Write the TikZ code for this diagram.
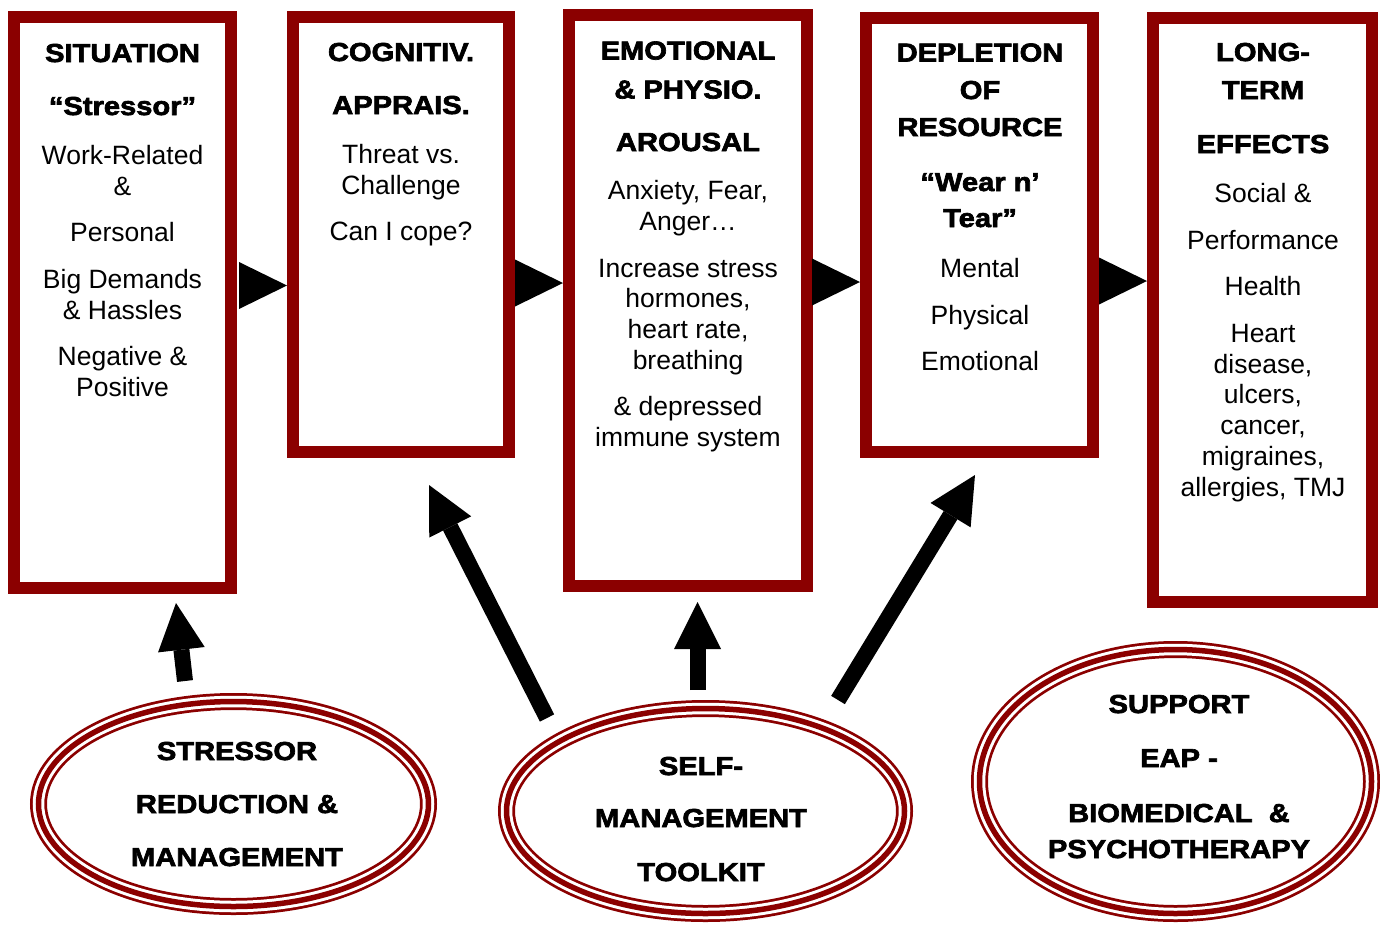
\documentclass[tikz,border=0pt]{standalone}
\usepackage{fontspec}
\setmainfont{Liberation Sans}
\newfontfamily\headfont{Liberation Sans Bold}[FakeStretch=1.12,FakeBold=2.6]
\usetikzlibrary{arrows.meta,shapes.geometric}
\definecolor{dred}{HTML}{8B0000}
\newcommand\hv{\headfont\fontsize{26}{31}\selectfont}
\begin{document}
\begin{tikzpicture}[x=1pt,y=-1pt,
  box/.style={draw=dred,line width=12pt,rectangle,inner sep=0pt},
  ring/.style={ellipse,inner sep=0pt,draw=dred,line width=5.5pt,
    preaction={draw=dred,line width=17pt},
    preaction={draw=white,line width=11.5pt}},
  lbl/.style={anchor=base,inner sep=0pt,font=\fontsize{26.5}{31}\selectfont},
  flow/.style={draw=white,line width=0.1pt,
    -{Triangle[length=48pt,width=47pt,line width=0pt,color=black]}},
  bigarrow/.style={line width=16pt,-{Triangle[length=47pt,width=47pt,line width=0pt]}}]

\fill[white] (0,0) rectangle (1380,924);
\useasboundingbox (0,0) rectangle (1380,924);

% stage boxes
\node[box,minimum width=217pt,minimum height=571pt] (b1) at (122.5,302.5) {};
\node[box,minimum width=216pt,minimum height=435pt] (b2) at (401,234.5) {};
\node[box,minimum width=238pt,minimum height=571pt] (b3) at (688,300.5) {};
\node[box,minimum width=227pt,minimum height=434pt] (b4) at (979.5,235) {};
\node[box,minimum width=219pt,minimum height=584pt] (b5) at (1262.5,310) {};

% stage texts
\foreach \yy/\txt [count=\i] in {62/{\hv SITUATION},115/{\hv “Stressor”},
  164/Work-Related,195/\&,241/Personal,288/Big Demands,319/\& Hassles,
  365/Negative \&,396/Positive}
  \node[lbl] (b1t\i) at (122.5,\yy) {\txt};
\foreach \yy/\txt [count=\i] in {61/{\hv COGNITIV.},114/{\hv APPRAIS.},
  163.5/Threat vs.,194.5/Challenge,240.5/Can I cope?}
  \node[lbl] (b2t\i) at (401,\yy) {\txt};
\foreach \yy/\txt [count=\i] in {59.5/{\hv EMOTIONAL},98.5/{\hv \& PHYSIO.},
  151/{\hv AROUSAL},199.5/{Anxiety, Fear,},230.5/Anger…,
  277.5/Increase stress,307.5/{hormones,},338.5/{heart rate,},369.5/breathing,
  415.5/\& depressed,446.5/immune system}
  \node[lbl] (b3t\i) at (688,\yy) {\txt};
\foreach \yy/\txt [count=\i] in {61.5/{\hv DEPLETION},99/{\hv OF},
  136/{\hv RESOURCE},191/{\hv “Wear n’},227/{\hv Tear”},
  277.5/Mental,324.5/Physical,370.5/Emotional}
  \node[lbl] (b4t\i) at (980,\yy) {\txt};
\foreach \yy/\txt [count=\i] in {61/{\hv LONG-},99/{\hv TERM},
  153/{\hv EFFECTS},202.5/Social \&,249.5/Performance,295.5/Health,
  342.5/Heart,373.5/{disease,},403.5/{ulcers,},434.5/{cancer,},
  465.5/{migraines,},496.5/{allergies, TMJ}}
  \node[lbl] (b5t\i) at (1263,\yy) {\txt};

% flow between stages
\path (0,285.5) coordinate (r1) (0,283) coordinate (r2)
      (0,282) coordinate (r3) (0,281) coordinate (r4);
\draw[flow] (b1.east |- r1) -- (b2.west |- r1);
\draw[flow] (b2.east |- r2) -- (b3.west |- r2);
\draw[flow] (b3.east |- r3) -- (b4.west |- r3);
\draw[flow] (b4.east |- r4) -- (b5.west |- r4);

% intervention ellipses
\node[ring,minimum width=390pt,minimum height=205pt] (e1) at (233.5,804) {};
\node[ring,minimum width=398pt,minimum height=205pt] (e2) at (705.5,811) {};
\node[ring,minimum width=392pt,minimum height=264pt] (e3) at (1175.5,781.5) {};

\foreach \yy/\txt [count=\i] in {760/STRESSOR,813/REDUCTION \&,866/MANAGEMENT}
  \node[lbl] (e1t\i) at (237,\yy) {\hv\txt};
\foreach \yy/\txt [count=\i] in {775/SELF-,827/MANAGEMENT,881/TOOLKIT}
  \node[lbl] (e2t\i) at (701,\yy) {\hv\txt};
\foreach \yy/\txt [count=\i] in {713/SUPPORT,767/EAP -,822/BIOMEDICAL\ \ \&,
  858/PSYCHOTHERAPY}
  \node[lbl] (e3t\i) at (1179,\yy) {\hv\txt};

% intervention arrows
\coordinate (s1) at (185,681);   \coordinate (p1) at (176,603);
\coordinate (s2) at (547,718);   \coordinate (p2) at (429,485);
\coordinate (s3) at (697.5,690); \coordinate (p3) at (697.5,602);
\coordinate (s4) at (838,700);   \coordinate (p4) at (975,475);
\draw[bigarrow] (s1) -- (p1);
\draw[bigarrow] (s2) -- (p2);
\draw[bigarrow] (s3) -- (p3);
\draw[bigarrow] (s4) -- (p4);
\end{tikzpicture}
\end{document}
